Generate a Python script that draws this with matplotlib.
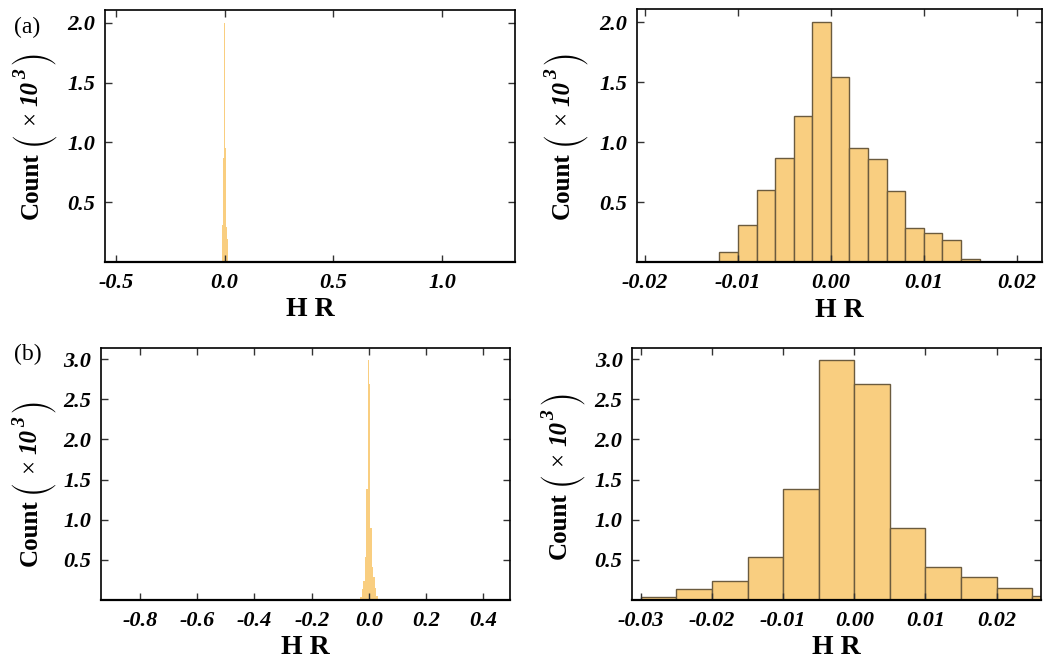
import numpy as np
import matplotlib.pyplot as plt
from matplotlib.ticker import FixedLocator, FormatStrFormatter

plt.rcParams["font.family"] = "Liberation Serif"

# (a) histogram of H R, bin width 0.002, counts in thousands
a_edges = np.arange(-0.016, 0.0161, 0.002)
a_counts = [0.003, 0.003, 0.083, 0.308, 0.603, 0.867, 1.219, 2.000,
            1.547, 0.950, 0.858, 0.592, 0.289, 0.242, 0.189, 0.025]
# sparse outliers far from zero
a_tail_edges = [0.02, 0.1, 0.2, 0.3, 0.4, 0.5, 0.6, 0.7, 0.8]
a_tail_counts = [0.006, 0.005, 0.005, 0.004, 0.005, 0.004, 0.004, 0.004]

# (b) histogram of H R, bin width 0.005
b_edges = np.arange(-0.030, 0.0301, 0.005)
b_counts = [0.041, 0.133, 0.232, 0.535, 1.386, 2.983,
            2.685, 0.892, 0.415, 0.290, 0.145, 0.050]
b_tail_edges = [-0.47, -0.4, -0.3, -0.2, -0.1, -0.03]
b_tail_counts = [0.006, 0.007, 0.007, 0.008, 0.009]

bar_color = "#F9CE80"
edge_color = "#6B5B3E"

tick_font = dict(family="Liberation Serif", weight="bold", style="italic", size=16)
# tall, thin bracket glyphs
paren_font = dict(fontsize=17, family="STIXSizeTwoSym")

fig = plt.figure(figsize=(10.45, 6.66), dpi=100)

axes_pos = [
    [0.1005, 0.6066, 0.3923, 0.3784],
    [0.6093, 0.6061, 0.3876, 0.3799],
    [0.0967, 0.0991, 0.3914, 0.3779],
    [0.6051, 0.0991, 0.3908, 0.3779],
]
axs = [fig.add_axes(p) for p in axes_pos]


def count_label(ax, x, y):
    # "Count ( x 10^3 )" built from pieces so the brackets can be tall
    lab = ax.set_ylabel("Count", fontsize=18, fontweight="bold")
    ax.yaxis.set_label_coords(x, y)
    pieces = [
        ("(", paren_font, (1, 5)),
        ("\u00d7", dict(fontsize=18), (-1, 4)),
        ("10", dict(fontsize=18, fontweight="bold", fontstyle="italic"), (0, 4)),
        ("3", dict(fontsize=14, fontweight="bold", fontstyle="italic"), (-7, 1)),
        (")", paren_font, (8, 4)),
    ]
    prev = lab
    for s, kw, off in pieces:
        prev = ax.annotate(s, xy=(0.5, 1), xycoords=prev, xytext=off,
                           textcoords="offset points", rotation=90,
                           ha="center", va="bottom", annotation_clip=False, **kw)


def style_axis(ax, xticks, yticks, xfmt, xlim, ylim):
    ax.set_xlim(*xlim)
    ax.set_ylim(*ylim)
    ax.xaxis.set_major_locator(FixedLocator(xticks))
    ax.yaxis.set_major_locator(FixedLocator(yticks))
    ax.xaxis.set_major_formatter(FormatStrFormatter(xfmt))
    ax.yaxis.set_major_formatter(FormatStrFormatter("%.1f"))
    ax.tick_params(direction="in", top=True, right=True, length=5, width=1,
                   color="#333333")
    ax.tick_params(axis="x", pad=8)
    ax.tick_params(axis="y", pad=7)
    for lab in ax.get_xticklabels() + ax.get_yticklabels():
        lab.set(**tick_font)
    for sp in ax.spines.values():
        sp.set_linewidth(1.2)
    ax.spines["bottom"].set_linewidth(1.6)
    ax.set_xlabel("H R", fontsize=20, fontweight="bold")
    ax.xaxis.set_label_coords(0.5, -0.14)


# (a) full range
ax = axs[0]
ax.hist(a_edges[:-1], bins=a_edges, weights=a_counts, color=bar_color, linewidth=0)
ax.hist(a_tail_edges[:-1], bins=a_tail_edges, weights=a_tail_counts,
        color=bar_color, linewidth=0)
style_axis(ax, [-0.5, 0.0, 0.5, 1.0], [0.5, 1.0, 1.5, 2.0], "%.1f",
           (-0.55, 1.335), (0, 2.108))
count_label(ax, -0.152, 0.305)

# (a) zoomed
ax = axs[1]
ax.hist(a_edges[:-1], bins=a_edges, weights=a_counts, color=bar_color,
        edgecolor=edge_color, linewidth=1)
style_axis(ax, [-0.02, -0.01, 0.0, 0.01, 0.02], [0.5, 1.0, 1.5, 2.0], "%.2f",
           (-0.0209, 0.0227), (0, 2.108))
count_label(ax, -0.155, 0.305)

# (b) full range
ax = axs[2]
ax.hist(b_edges[:-1], bins=b_edges, weights=b_counts, color=bar_color, linewidth=0)
ax.hist(b_tail_edges[:-1], bins=b_tail_edges, weights=b_tail_counts,
        color=bar_color, linewidth=0)
style_axis(ax, [-0.8, -0.6, -0.4, -0.2, 0.0, 0.2, 0.4],
           [0.5, 1.0, 1.5, 2.0, 2.5, 3.0], "%.1f", (-0.936, 0.493), (0, 3.133))
count_label(ax, -0.145, 0.266)

# (b) zoomed
ax = axs[3]
ax.hist(b_edges[:-1], bins=b_edges, weights=b_counts, color=bar_color,
        edgecolor=edge_color, linewidth=1)
style_axis(ax, [-0.03, -0.02, -0.01, 0.0, 0.01, 0.02],
           [0.5, 1.0, 1.5, 2.0, 2.5, 3.0], "%.2f", (-0.0312, 0.0262), (0, 3.133))
count_label(ax, -0.150, 0.296)

fig.text(0.013, 0.975, "(a)", fontsize=17, va="top", ha="left")
fig.text(0.013, 0.483, "(b)", fontsize=17, va="top", ha="left")

fig.savefig("out.png", dpi=100)
